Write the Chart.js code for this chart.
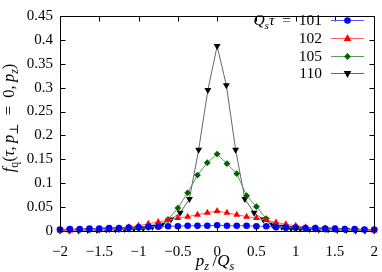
<!DOCTYPE html>
<html><head><meta charset="utf-8">
<script src="https://cdn.jsdelivr.net/npm/chart.js@4"></script>
<style>html,body{margin:0;padding:0;background:#fff}</style>
</head><body>
<canvas id="c" width="382" height="272"></canvas>
<script>
// momentum grids
const pzA = [-2,-1.875,-1.75,-1.625,-1.5,-1.375,-1.25,-1.125,-1,-0.875,-0.75,-0.625,-0.5,-0.375,-0.25,-0.125,0,
  0.125,0.25,0.375,0.5,0.625,0.75,0.875,1,1.125,1.25,1.375,1.5,1.625,1.75,1.875,2];
const pzB = [-2,-1.8824,-1.7647,-1.6471,-1.5294,-1.4118,-1.2941,-1.1765,-1.0588,-0.9412,-0.8235,-0.7059,-0.5882,-0.4706,-0.3529,-0.2353,-0.1176,0,
  0.1176,0.2353,0.3529,0.4706,0.5882,0.7059,0.8235,0.9412,1.0588,1.1765,1.2941,1.4118,1.5294,1.6471,1.7647,1.8824,2];
// series
const f101 = [0.003,0.004,0.004,0.005,0.005,0.006,0.006,0.007,0.008,0.009,0.009,0.010,0.010,0.011,0.011,0.011,0.012,
  0.011,0.011,0.011,0.010,0.010,0.008,0.007,0.007,0.006,0.006,0.005,0.005,0.004,0.004,0.003,0.003];
const f102 = [0.001,0.001,0.002,0.002,0.003,0.004,0.005,0.008,0.011,0.015,0.019,0.023,0.027,0.030,0.034,0.038,0.042,
  0.038,0.034,0.030,0.027,0.023,0.018,0.014,0.011,0.008,0.006,0.005,0.004,0.003,0.002,0.002,0.001];
const f105 = [0.001,0.001,0.002,0.002,0.002,0.003,0.003,0.004,0.005,0.007,0.011,0.024,0.048,0.080,0.117,0.143,0.161,
  0.141,0.120,0.074,0.051,0.026,0.011,0.008,0.006,0.005,0.004,0.003,0.003,0.002,0.002,0.001,0.001];
const f110 = [0.001,0.001,0.001,0.002,0.002,0.003,0.003,0.004,0.005,0.006,0.009,0.013,0.024,0.038,0.067,0.170,0.295,0.387,
  0.305,0.170,0.067,0.038,0.024,0.013,0.009,0.006,0.005,0.004,0.003,0.003,0.002,0.002,0.001,0.001,0.001];
const seriesLabels = ['101','102','105','110'];
const xTicks = [-2,-1.5,-1,-0.5,0,0.5,1,1.5,2];
const yTicks = [0,0.05,0.1,0.15,0.2,0.25,0.3,0.35,0.4,0.45];

const FONT = "'Liberation Serif', 'DejaVu Serif', serif";
const styles = [
  {color:'#0000ff', line:'#5a5aff', shape:'circle', r:3.3, rot:0},
  {color:'#ff0000', line:'#ff6060', shape:'triangle', r:4, rot:0},
  {color:'#006400', line:'#5a9a5a', shape:'rectRot', r:3.4, rot:0},
  {color:'#000000', line:'#666666', shape:'triangle', r:4, rot:180}
];
function pts(xs, ys){ return xs.map((x,i)=>({x:x, y:ys[i]})); }
const data = [pts(pzA,f101), pts(pzA,f102), pts(pzA,f105), pts(pzB,f110)];

function mk(i){
  const s = styles[i];
  return {label: seriesLabels[i], data: data[i], showLine:true, borderColor:s.line, borderWidth:1,
    backgroundColor:s.color, pointBackgroundColor:s.color, pointBorderColor:s.color, pointBorderWidth:0,
    pointStyle:s.shape, pointRadius:s.r, pointRotation:s.rot, clip:false, tension:0};
}

function drawMarker(ctx, shape, x, y, r, rot, color){
  ctx.save(); ctx.fillStyle = color; ctx.translate(x,y); ctx.rotate(rot*Math.PI/180);
  ctx.beginPath();
  if (shape==='circle'){ ctx.arc(0,0,r,0,Math.PI*2); }
  else if (shape==='triangle'){
    ctx.moveTo(0,-r*1.1); ctx.lineTo(r*0.95,r*0.6); ctx.lineTo(-r*0.95,r*0.6); ctx.closePath();
  } else { ctx.moveTo(0,-r); ctx.lineTo(r,0); ctx.lineTo(0,r); ctx.lineTo(-r,0); ctx.closePath(); }
  ctx.fill(); ctx.restore();
}

// rich text: pieces [text, italic, sub]
function richWidth(ctx, pieces, size){
  let w=0; for (const p of pieces){ ctx.font = (p[1]?'italic ':'')+(p[2]?size*0.72:size)+'px '+FONT; w+=ctx.measureText(p[0]).width; } return w;
}
function drawRich(ctx, pieces, x, y, size){
  let cx=x;
  for (const p of pieces){
    const s = p[2]?size*0.72:size;
    ctx.font = (p[1]?'italic ':'')+s+'px '+FONT;
    ctx.fillText(p[0], cx, y + (p[2]?size*0.25:0));
    cx += ctx.measureText(p[0]).width;
  }
}

const deco = {
  id:'deco',
  afterDraw(chart){
    const ctx = chart.ctx, a = chart.chartArea, xs = chart.scales.x, ys = chart.scales.y;
    ctx.save();
    ctx.strokeStyle = '#000'; ctx.lineWidth = 1;
    const L=Math.round(a.left)+0.5, R=Math.round(a.right)+0.5, T=Math.round(a.top)+0.5, B=Math.round(a.bottom)+0.5;
    ctx.strokeRect(L, T, R-L, B-T);
    ctx.beginPath();
    for (const v of xTicks){ const px = Math.round(xs.getPixelForValue(v))+0.5;
      ctx.moveTo(px,B); ctx.lineTo(px,B-5); ctx.moveTo(px,T); ctx.lineTo(px,T+5); }
    for (const v of yTicks){ const py = Math.round(ys.getPixelForValue(v))+0.5;
      ctx.moveTo(L,py); ctx.lineTo(L+5,py); ctx.moveTo(R,py); ctx.lineTo(R-5,py); }
    ctx.stroke();
    ctx.fillStyle = '#000'; ctx.textBaseline = 'alphabetic'; ctx.textAlign = 'left';
    // x title
    const xt = [['p',true,false],['z',true,true],['\u2009/',false,false],['Q',true,false],['s',true,true]];
    const xw = richWidth(ctx, xt, 17);
    drawRich(ctx, xt, 215 - xw/2, 266, 17);
    // y title
    const yt = [['f',true,false],['q',false,true],['(',false,false],['τ',true,false],[',\u2009',false,false],['p',true,false],['⊥',false,true],['\u2002=\u2002',false,false],['0,\u2009',false,false],['p',true,false],['z',true,true],[')',false,false]];
    const yw = richWidth(ctx, yt, 16.5);
    ctx.save(); ctx.translate(14, 118); ctx.rotate(-Math.PI/2);
    drawRich(ctx, yt, -yw/2, 0, 16.5); ctx.restore();
    // legend
    const rightX = 322, x0 = 331, x1 = 364, rowY = [20, 38, 55.7, 73.3];
    for (let i=0;i<4;i++){
      const y = rowY[i];
      const pieces = i===0 ? [['Q',true,false],['s',true,true],['τ',true,false],['\u2002=\u2002'+seriesLabels[0],false,false]] : [[seriesLabels[i],false,false]];
      const w = richWidth(ctx, pieces, 15.5);
      drawRich(ctx, pieces, rightX - w, y+5, 15.5);
      const s = styles[i];
      ctx.strokeStyle = s.line; ctx.lineWidth = 1;
      ctx.beginPath(); ctx.moveTo(x0, Math.round(y)+0.5); ctx.lineTo(x1, Math.round(y)+0.5); ctx.stroke();
      drawMarker(ctx, s.shape, (x0+x1)/2, Math.round(y)+0.5, s.r, s.rot, s.color);
    }
    ctx.restore();
  }
};

new Chart(document.getElementById('c'), {
  type:'scatter',
  data:{datasets:[mk(0),mk(1),mk(2),mk(3)]},
  options:{
    responsive:false, animation:false, devicePixelRatio:1,
    layout:{padding:{top:5, right:5, left:0, bottom:0}},
    plugins:{legend:{display:false}, tooltip:{enabled:false}},
    scales:{
      x:{type:'linear', min:-2, max:2, grid:{display:false}, border:{display:false},
        afterBuildTicks(s){ s.ticks = xTicks.map(v=>({value:v})); },
        afterFit(s){ s.height = 41; },
        ticks:{padding:4, color:'#000', font:{family:FONT, size:15}, maxRotation:0,
          callback:(v)=> (v<0?'\u2212':'') + Math.abs(v).toString()}},
      y:{type:'linear', min:0, max:0.45, grid:{display:false, drawTicks:false}, border:{display:false},
        afterBuildTicks(s){ s.ticks = yTicks.map(v=>({value:v})); },
        afterFit(s){ s.width = 60; },
        ticks:{padding:7, color:'#000', font:{family:FONT, size:15},
          callback:(v)=> Number(v.toFixed(2)).toString()}}
    }
  },
  plugins:[deco]
});
</script>
</body></html>
